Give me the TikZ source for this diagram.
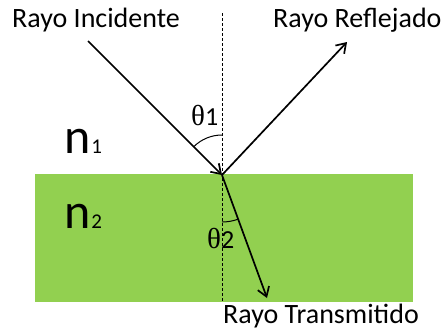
\documentclass[tikz,border=0pt]{standalone}
\usepackage{fontspec}
\setmainfont{Carlito}
\newfontfamily\thfont{Liberation Serif}
\usetikzlibrary{arrows.meta,calc}
\definecolor{medgreen}{HTML}{92D050}
\begin{document}
\begin{tikzpicture}[x=1pt,y=-1pt,
  ray/.style={line width=1.7pt,-{Straight Barb[length=9pt,width=12pt,line width=1.7pt]}},
  normal/.style={line width=0.9pt,dash pattern=on 3pt off 2pt},
  anglearc/.style={line width=1pt},
  label/.style={inner sep=0pt,anchor=base west,font=\fontsize{28}{30}\selectfont},
  idx/.style={inner sep=0pt,anchor=base west}]
\useasboundingbox (0,0) rectangle (446,330);
\fill[medgreen] (35,174) rectangle (413,302);
\coordinate (O) at (222,175);
\coordinate (A) at (88,41);
\coordinate (B) at (347,42);
\coordinate (C) at (267,298);
\coordinate (N1) at (222,13);
\coordinate (N2) at (222,302);
\draw[normal] (N1) -- (N2);
\draw[ray] (A) -- (O);
\draw[ray] (O) -- (B);
\draw[ray] (O) -- (C);
\draw[anglearc] ($(O)+(225:40)$) arc[start angle=225,end angle=270,radius=40];
\draw[anglearc] ($(O)+(69.9:47)$) arc[start angle=69.9,end angle=90,radius=47];
\node[label] (inc) at (12,27) {Rayo Incidente};
\node[label] (ref) at (273,27) {Rayo Reflejado};
\node[label] (tra) at (223,323) {Rayo Transmitido};
\node[idx] (t1) at (191,125) {{\thfont\fontsize{29}{30}\selectfont θ}{\fontsize{26}{28}\selectfont 1}};
\node[idx] (t2) at (207,248) {{\thfont\fontsize{29}{30}\selectfont θ}{\fontsize{26}{28}\selectfont 2}};
\node[idx] (n1) at (64,153) {{\fontsize{50}{50}\selectfont n}\hspace{1pt}{\fontsize{21}{22}\selectfont 1}};
\node[idx] (n2) at (64,228) {{\fontsize{50}{50}\selectfont n}\hspace{1pt}{\fontsize{21}{22}\selectfont 2}};
\end{tikzpicture}
\end{document}
